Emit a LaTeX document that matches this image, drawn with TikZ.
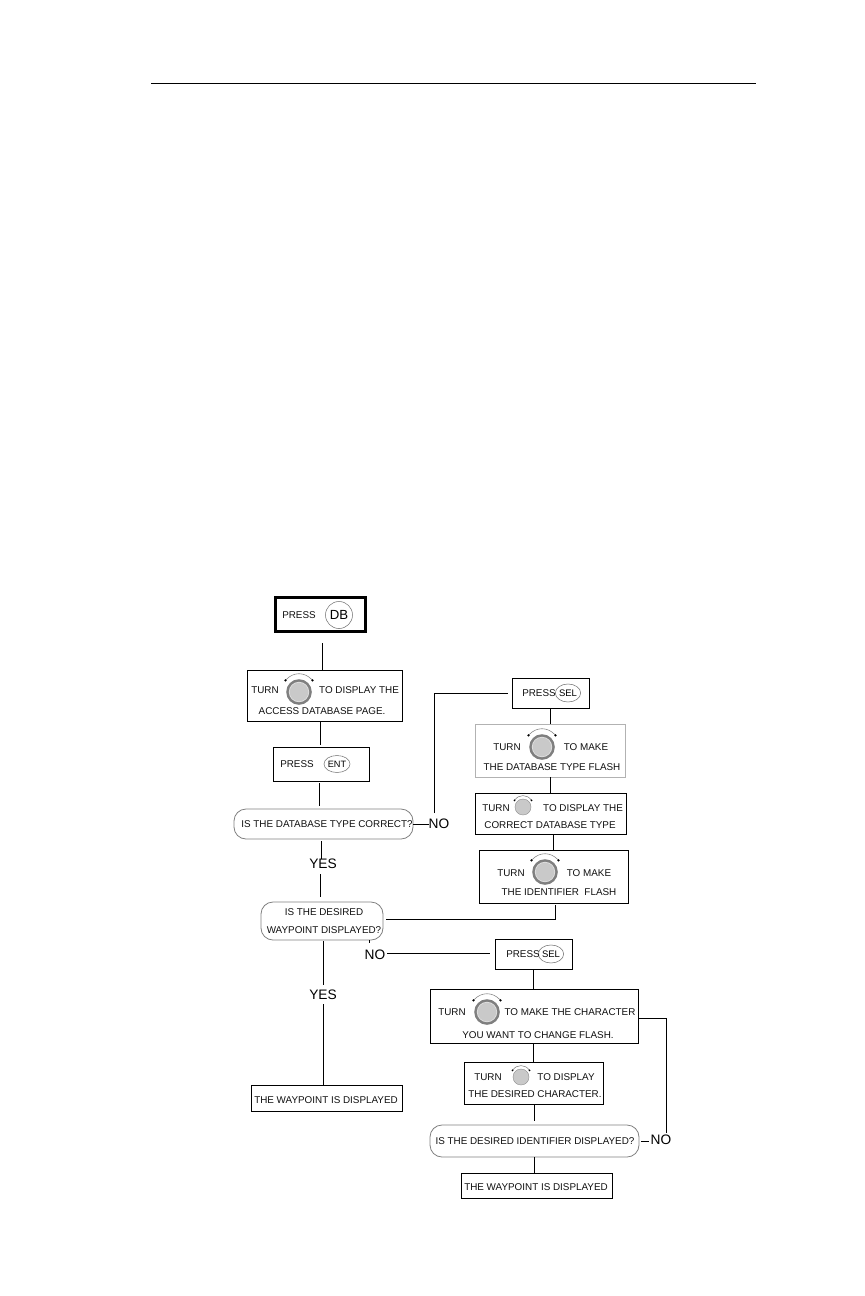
\documentclass[tikz,border=0pt]{standalone}
\usepackage{fontspec}
\setmainfont{Liberation Sans}
\definecolor{ink}{HTML}{111111}
\definecolor{knobfill}{HTML}{C9C9C9}
\definecolor{knobring}{HTML}{7F7F7F}
\tikzset{
  every node/.style={inner sep=0pt,outer sep=0pt},
  boxbase/.style={rectangle,draw=black,line width=0.75pt},
  pillbox/.style={rectangle,draw=black!50,line width=0.6pt,rounded corners=9pt},
  lightbox/.style={rectangle,draw=black!30,line width=0.75pt},
  thickbox/.style={rectangle,draw=black,line width=2.25pt},
  label/.style={text=ink,font=\fontsize{7.4}{8}\selectfont},
  biglabel/.style={text=black,font=\fontsize{10.3}{11}\selectfont},
  keyring/.style={ellipse,draw=black!55,line width=0.4pt},
  conn/.style={draw=black,line width=0.75pt},
  dial/.style={draw=black!50,line width=0.4pt},
}
\usetikzlibrary{shapes.geometric}
\newcommand{\bx}[6]{% style, name, x1, y1, x2, y2
  \node[#1,minimum width={(#5-#3)*0.75pt},minimum height={(#6-#4)*0.75pt}] (#2) at ({(#3+#5)/2},{(#4+#6)/2}) {};}
\newcommand{\lbl}[3]{\node[label] at (#1,#2) {#3};}
\newcommand{\bigknob}[2]{%
  \begin{scope}[shift={(#1,#2)}]
    \fill[knobring] (0,0) circle[radius=12.8];
    \fill[knobfill!60!white] (0,0) circle[radius=10.2];
    \fill[knobfill] (0,0) circle[radius=9.3];
    \draw[dial] (-13.5,-11.7) .. controls (-6,-20.5) and (6,-20.5) .. (13.5,-11.7);
    \fill[black] (-13.5,-11.7) circle[radius=1.3];
    \fill[black] (13.5,-11.7) circle[radius=1.3];
  \end{scope}}
\newcommand{\smallknob}[2]{%
  \begin{scope}[shift={(#1,#2)}]
    \fill[knobfill] (0,0) circle[radius=8];
    \draw[black!45,line width=0.3pt] (0,0) circle[radius=8];
    \draw[dial] (-8.5,-6.7) .. controls (-4,-13) and (4,-13) .. (8.5,-6.7);
    \fill[black] (-8.5,-6.7) circle[radius=1];
    \fill[black] (8.5,-6.7) circle[radius=1];
  \end{scope}}
\begin{document}
\begin{tikzpicture}[x=0.75pt,y=-0.75pt]
\useasboundingbox (0,0) rectangle (864,1296);
\fill[white] (0,0) rectangle (864,1296);
\coordinate (ruleL) at (151,83);
\coordinate (ruleR) at (756,83);
\draw[black,line width=0.75pt] (ruleL) -- (ruleR);

% boxes
\bx{thickbox}{pressDB}{275.5}{597.5}{365.5}{631.5}
\bx{boxbase}{turnA}{247}{670}{402}{721}
\bx{boxbase}{pressENT}{273}{747}{369}{781}
\bx{pillbox}{pillA}{234}{809}{413}{839}
\bx{boxbase}{selA}{512}{678}{589}{708}
\bx{lightbox}{turnB}{475}{724}{625}{777}
\bx{boxbase}{typeC}{475}{793}{626}{834}
\bx{boxbase}{turnD}{479}{850}{628}{903}
\bx{pillbox}{pillB}{261}{902}{383}{940}
\bx{boxbase}{selB}{495}{939}{572}{969}
\bx{boxbase}{turnE}{430}{989}{638}{1043}
\bx{boxbase}{typeF}{464}{1062}{603}{1104}
\bx{pillbox}{pillC}{430}{1125}{639}{1157}
\bx{boxbase}{wayA}{251}{1085}{402}{1111}
\bx{boxbase}{wayB}{461}{1173}{612}{1198}

% decision words
\node[biglabel] (noA) at (439,824) {NO};
\node[biglabel] (noB) at (375,955) {NO};
\node[biglabel] (noC) at (661,1140) {NO};
\node[biglabel] (yesA) at (323,864) {YES};
\node[biglabel] (yesB) at (323,995) {YES};

% key caps
\node[keyring,minimum width={27*0.75pt},minimum height={27*0.75pt}] (keyDB) at (339,615) {\fontsize{9.9}{11}\selectfont DB};
\node[keyring,minimum width={26*0.75pt},minimum height={17*0.75pt}] (keyENT) at (337,764) {\fontsize{6.9}{8}\selectfont ENT};
\node[keyring,minimum width={22*0.75pt},minimum height={18*0.75pt}] (keySELa) at (568,693) {\fontsize{7.1}{8}\selectfont SEL};
\node[keyring,minimum width={22*0.75pt},minimum height={18*0.75pt}] (keySELb) at (551,954) {\fontsize{7.1}{8}\selectfont SEL};

% knobs
\bigknob{299}{692}
\bigknob{542}{747}
\smallknob{523}{807}
\bigknob{545}{872}
\bigknob{487}{1012}
\smallknob{521}{1077}

% texts
\lbl{299}{615}{PRESS}
\lbl{265}{690}{TURN}
\lbl{359}{690}{TO DISPLAY THE}
\lbl{322}{711}{ACCESS DATABASE PAGE.}
\lbl{297}{764}{PRESS}
\lbl{327}{824}{IS THE DATABASE TYPE CORRECT?}
\lbl{324}{912}{IS THE DESIRED}
\lbl{324}{930}{WAYPOINT DISPLAYED?}
\lbl{326}{1100}{THE WAYPOINT IS DISPLAYED}
\lbl{539}{693}{PRESS}
\lbl{507}{747}{TURN}
\lbl{586}{747}{TO MAKE}
\lbl{552}{767}{THE DATABASE TYPE FLASH}
\lbl{496}{808}{TURN}
\lbl{583}{808}{TO DISPLAY THE}
\lbl{550}{825}{CORRECT DATABASE TYPE}
\lbl{511}{873}{TURN}
\lbl{589}{873}{TO MAKE}
\lbl{559}{892}{THE IDENTIFIER\ \ FLASH}
\lbl{523}{954}{PRESS}
\lbl{452}{1012}{TURN}
\lbl{570}{1012}{TO MAKE THE CHARACTER}
\lbl{538}{1035}{YOU WANT TO CHANGE FLASH.}
\lbl{488}{1077}{TURN}
\lbl{566}{1077}{TO DISPLAY}
\lbl{535}{1094}{THE DESIRED CHARACTER.}
\lbl{535}{1141}{IS THE DESIRED IDENTIFIER DISPLAYED?}
\lbl{536}{1187}{THE WAYPOINT IS DISPLAYED}

% connectors, left column
\draw[conn] ([shift={(1.5,11.5)}]pressDB.south) -- ([shift={(-2.5,0)}]turnA.north);
\draw[conn] ([shift={(-4.5,0)}]turnA.south) -- ([shift={(-1,-2)}]pressENT.north);
\draw[conn] ([shift={(-2,2)}]pressENT.south) -- ([shift={(-4.5,-3)}]pillA.north);
\draw[conn] ([shift={(-2.5,2)}]pillA.south) -- ([shift={(-2,-5)}]yesA.center);
\draw[conn] ([shift={(-3,10)}]yesA.center) -- ([shift={(-2,-5)}]pillB.north);
\draw[conn] ([shift={(1,1)}]pillB.south) -- ([shift={(0,-10)}]yesB.center);
\draw[conn] ([shift={(0,9)}]yesB.center) -- ([shift={(-3.5,0)}]wayA.north);
% NO branch 1
\draw[conn] (pillA.east) -- ([shift={(-10,0)}]noA.center);
\draw[conn] ([shift={(-5,-11)}]noA.center) |- ([shift={(-4,0)}]selA.west);
% right upper column
\draw[conn] ([shift={(-0.5,0)}]selA.south) -- (turnB.north);
\draw[conn] (turnB.south) -- ([shift={(-0.5,0)}]typeC.north);
\draw[conn] ([shift={(2.5,0)}]typeC.south) -- ([shift={(-0.5,0)}]turnD.north);
\draw[conn] ([shift={(1.5,2)}]turnD.south) |- ([shift={(3,-2)}]pillB.east);
% NO branch 2
\draw[conn] ([shift={(47,0)}]pillB.south) -- ([shift={(-6,-12)}]noB.center);
\draw[conn] ([shift={(12,-2)}]noB.center) -- ([shift={(-5,-1)}]selB.west);
% right lower column
\draw[conn] ([shift={(-0.5,0)}]selB.south) -- ([shift={(-1,0)}]turnE.north);
\draw[conn] ([shift={(-1,0)}]turnE.south) -- ([shift={(-0.5,0)}]typeF.north);
\draw[conn] ([shift={(0.5,0)}]typeF.south) -- ([shift={(-0.5,-4)}]pillC.north);
\draw[conn] ([shift={(-0.5,0)}]pillC.south) -- ([shift={(-2.5,0)}]wayB.north);
% NO branch 3
\draw[conn] ([shift={(2,0)}]pillC.east) -- ([shift={(-12,1)}]noC.center);
\draw[conn] ([shift={(0,2)}]turnE.east) -| ([shift={(5,-7)}]noC.center);
\end{tikzpicture}
\end{document}
